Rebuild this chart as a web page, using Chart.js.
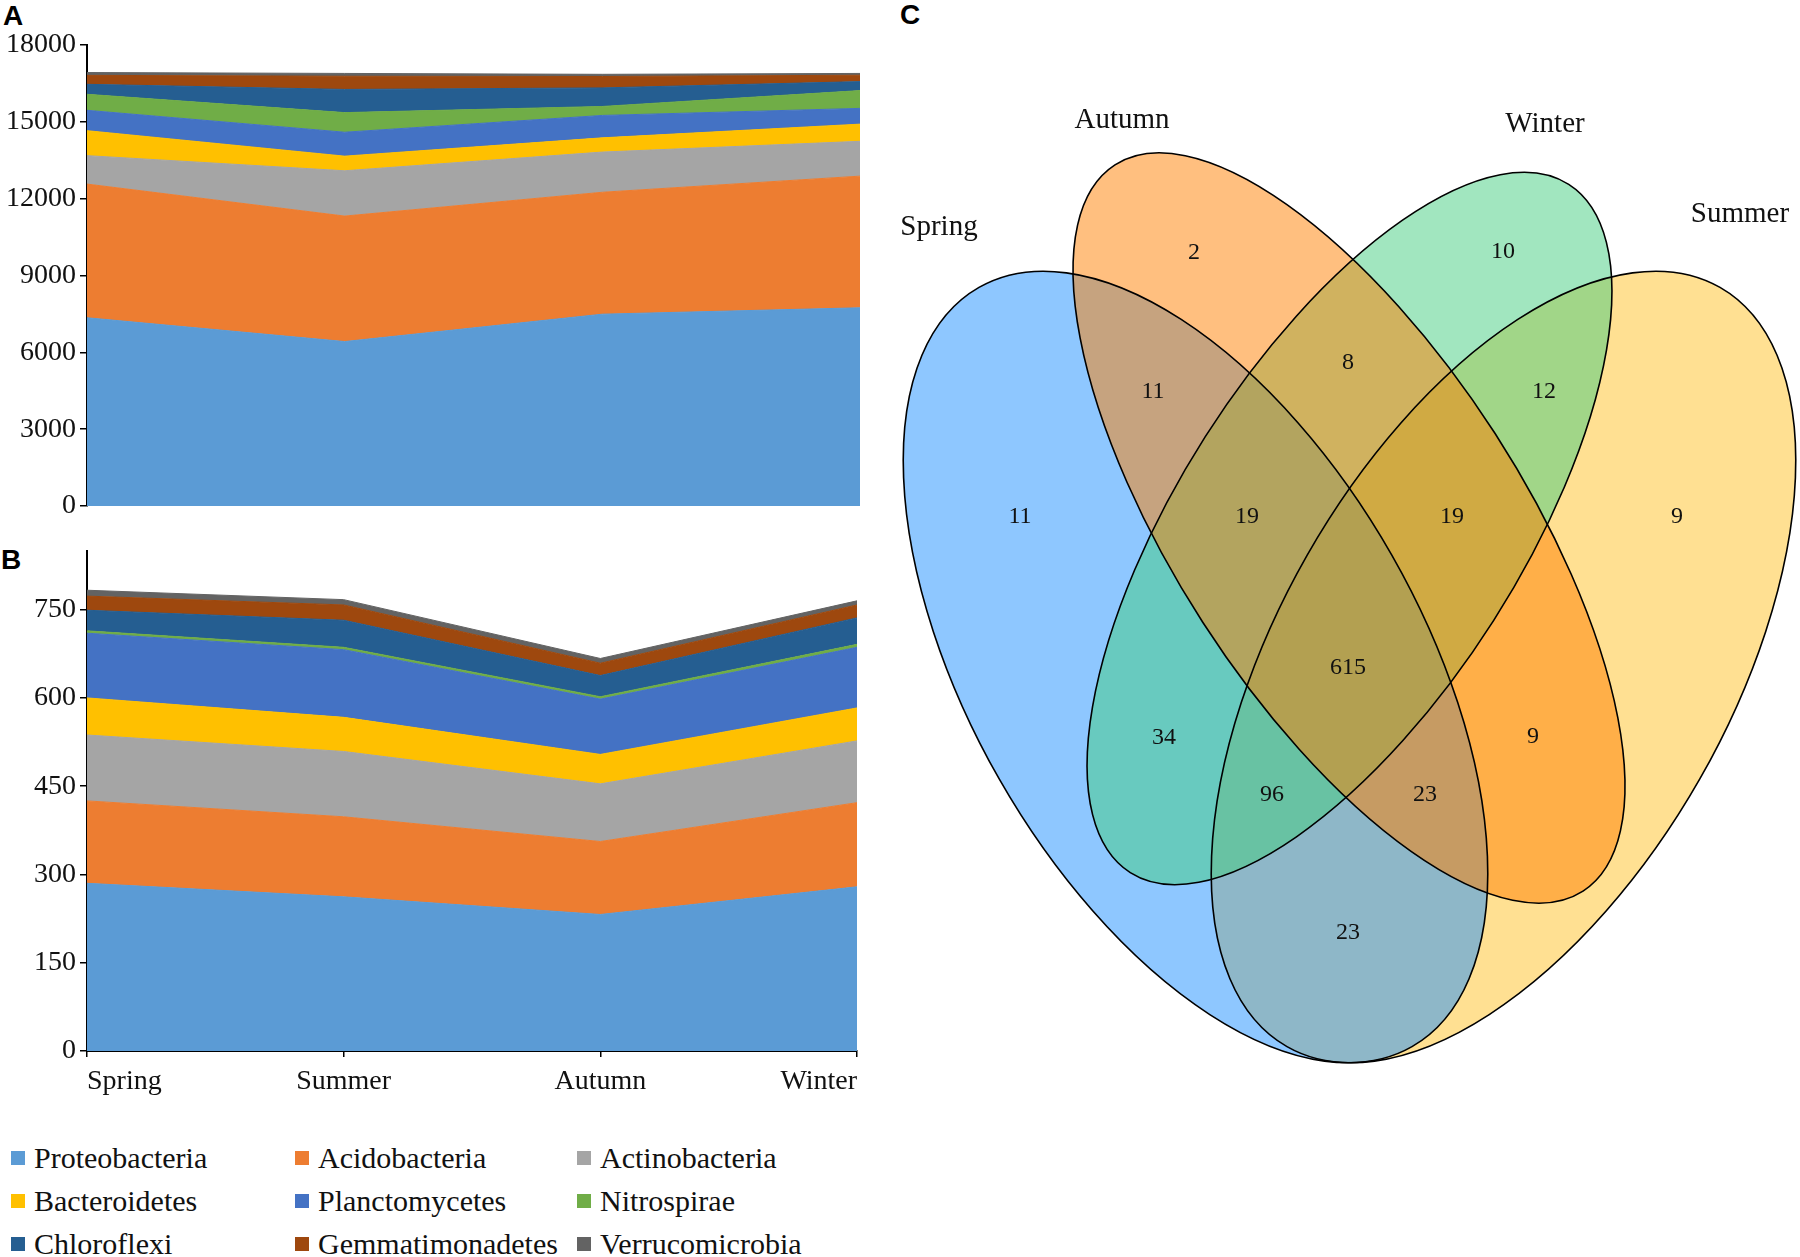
<!DOCTYPE html>
<html>
<head>
<meta charset="utf-8">
<script src="https://cdn.jsdelivr.net/npm/chart.js@4.4.1/dist/chart.umd.min.js"></script>
<style>
    body { margin: 0; background: #fff; width: 1800px; height: 1257px; position: relative; overflow: hidden; font-family: "Liberation Serif", "Times New Roman", serif; }
    .panel { position: absolute; font-family: "Liberation Sans", Arial, sans-serif; font-weight: bold; font-size: 28px; line-height: 28px; color: #000; }
    .wrap { position: absolute; }
    #legend { position: absolute; left: 11px; top: 1136px; display: grid; grid-template-columns: 284px 282px 280px; grid-auto-rows: 43px; }
    #legend .item { display: flex; align-items: center; font-size: 30px; color: #111; white-space: nowrap; }
    #legend .sq { width: 14px; height: 14px; margin-right: 9px; flex: none; }
</style>
</head>
<body>
<div class="panel" style="left:3px;top:2px">A</div>
<div class="panel" style="left:1px;top:546px">B</div>
<div class="panel" style="left:900px;top:1px">C</div>

<div class="wrap" style="left:0;top:0"><canvas id="chart-a" width="900" height="540"></canvas></div>
<div class="wrap" style="left:0;top:530px"><canvas id="chart-b" width="900" height="570"></canvas></div>
<div class="wrap" style="left:880px;top:0"><canvas id="chart-c" width="920" height="1100"></canvas></div>
<div id="legend"></div>

<script>
// Datos
const seasons = ['Spring', 'Summer', 'Autumn', 'Winter'];
const phyla = ['Proteobacteria', 'Acidobacteria', 'Actinobacteria', 'Bacteroidetes', 'Planctomycetes',
               'Nitrospirae', 'Chloroflexi', 'Gemmatimonadetes', 'Verrucomicrobia'];
const phylumColors = ['#5B9BD5', '#ED7D31', '#A5A5A5', '#FFC000', '#4472C4',
                      '#70AD47', '#255E91', '#9E480E', '#636363'];

// Panel A (secuencias)
const proteobacteriaA   = [7350, 6420, 7490, 7740];
const acidobacteriaA    = [5220, 4900, 4760, 5140];
const actinobacteriaA   = [1110, 1770, 1570, 1360];
const bacteroidetesA    = [975, 570, 555, 670];
const planctomycetesA   = [795, 935, 875, 615];
const nitrospiraeA      = [625, 765, 350, 695];
const chloroflexiA      = [390, 905, 725, 350];
const gemmatimonadetesA = [350, 515, 445, 250];
const verrucomicrobiaA  = [110, 110, 85, 70];
const yTicksA = { min: 0, max: 18000, step: 3000 };

// Panel B (OTUs)
const proteobacteriaB   = [285, 262, 232, 279];
const acidobacteriaB    = [140, 136, 124, 143];
const actinobacteriaB   = [112, 111, 98, 105];
const bacteroidetesB    = [63, 58, 50, 56];
const planctomycetesB   = [110, 115, 94, 103];
const nitrospiraeB      = [4, 4, 4, 5];
const chloroflexiB      = [35, 46, 36, 45];
const gemmatimonadetesB = [24, 26, 21, 22];
const verrucomicrobiaB  = [10, 9, 8, 7];
const yTicksB = { min: 0, max: 850, step: 150 };

// Panel C (Venn)
const vennSets = ['Spring', 'Autumn', 'Winter', 'Summer'];
const vennRegions = ['Spring', 'Autumn', 'Winter', 'Summer',
    'Spring&Autumn', 'Autumn&Winter', 'Winter&Summer', 'Spring&Winter', 'Autumn&Summer', 'Spring&Summer',
    'Spring&Autumn&Winter', 'Autumn&Winter&Summer', 'Spring&Winter&Summer', 'Spring&Autumn&Summer', 'All'];
const vennCounts = [11, 2, 10, 9, 11, 8, 12, 34, 9, 23, 19, 19, 96, 23, 615];

const seriesA = [proteobacteriaA, acidobacteriaA, actinobacteriaA, bacteroidetesA, planctomycetesA,
                 nitrospiraeA, chloroflexiA, gemmatimonadetesA, verrucomicrobiaA];
const seriesB = [proteobacteriaB, acidobacteriaB, actinobacteriaB, bacteroidetesB, planctomycetesB,
                 nitrospiraeB, chloroflexiB, gemmatimonadetesB, verrucomicrobiaB];

// Geometría del Venn (coordenadas de página)
const vennShapes = {
    Spring: { cx: 1195.5, cy: 667, a: 437, b: 226, rot: 60.3, fill: 'rgba(30,144,255,0.5)' },
    Summer: { cx: 1503.5, cy: 667, a: 437, b: 226, rot: 119.7, fill: 'rgba(255,193,37,0.5)' },
    Autumn: { cx: 1349, cy: 528, a: 432, b: 174, rot: 57.2, fill: 'rgba(255,127,0,0.5)' },
    Winter: { cx: 1349.5, cy: 528.5, a: 408, b: 171, rot: 122.5, fill: 'rgba(67,205,128,0.5)' }
};
const vennDrawOrder = ['Summer', 'Spring', 'Winter', 'Autumn'];
const setLabelPos = { Spring: [939, 227], Autumn: [1122, 120], Winter: [1545, 124], Summer: [1740, 214] };
const regionPos = {
    'Spring': [1020, 517], 'Autumn': [1194, 253], 'Winter': [1503, 252], 'Summer': [1677, 517],
    'Spring&Autumn': [1153, 392], 'Autumn&Winter': [1348, 363], 'Winter&Summer': [1544, 392],
    'Spring&Winter': [1164, 738], 'Autumn&Summer': [1533, 737], 'Spring&Summer': [1348, 933],
    'Spring&Autumn&Winter': [1247, 517], 'Autumn&Winter&Summer': [1452, 517],
    'Spring&Winter&Summer': [1272, 795], 'Spring&Autumn&Summer': [1425, 795], 'All': [1348, 668]
};

const serif = '"Liberation Serif", "Times New Roman", serif';

function areaDatasets(series) {
    return series.map((values, i) => ({
        label: phyla[i],
        data: values,
        backgroundColor: phylumColors[i],
        borderColor: phylumColors[i],
        borderWidth: 1,
        pointRadius: 0,
        tension: 0,
        fill: i === 0 ? 'origin' : '-1'
    }));
}

function stackedOptions(ticks, opts) {
    const x = {
        display: opts.showX,
        offset: false,
        grid: { drawOnChartArea: false, drawTicks: true, tickLength: 6, color: '#000', lineWidth: 1.5 },
        border: { display: true, color: '#000', width: 2 },
        ticks: { color: '#111', font: { family: serif, size: 28 }, padding: 8, align: 'inner', maxRotation: 0 }
    };
    if (opts.showX) x.afterFit = s => { s.height = 49; };
    return {
        responsive: false,
        animation: false,
        layout: { padding: opts.padding },
        plugins: { legend: { display: false }, tooltip: { enabled: false } },
        scales: {
            x: x,
            y: {
                stacked: true,
                min: ticks.min,
                max: ticks.max,
                grid: { drawOnChartArea: false, drawTicks: true, tickLength: 7, color: '#000', lineWidth: 1.5 },
                border: { display: true, color: '#000', width: 2 },
                ticks: {
                    stepSize: ticks.step, includeBounds: false, color: '#111', padding: 4,
                    font: { family: serif, size: 28 },
                    callback: v => String(v)
                },
                afterFit: s => { s.width = 87; }
            }
        }
    };
}

new Chart(document.getElementById('chart-a').getContext('2d'), {
    type: 'line',
    data: { labels: seasons, datasets: areaDatasets(seriesA) },
    options: stackedOptions(yTicksA, { padding: { top: 45, bottom: 34, right: 40, left: 0 }, showX: false })
});

new Chart(document.getElementById('chart-b').getContext('2d'), {
    type: 'line',
    data: { labels: seasons, datasets: areaDatasets(seriesB) },
    options: stackedOptions(yTicksB, { padding: { top: 15, bottom: 0, right: 43, left: 0 }, showX: true })
});

// Venn: elipses y textos dibujados con las escalas del gráfico
const vennPlugin = {
    id: 'venn',
    beforeDatasetsDraw(chart) {
        const { ctx, scales: { x, y } } = chart;
        const k = x.getPixelForValue(1) - x.getPixelForValue(0);
        ctx.save();
        vennDrawOrder.forEach(name => {
            const e = vennShapes[name];
            ctx.beginPath();
            ctx.ellipse(x.getPixelForValue(e.cx), y.getPixelForValue(e.cy), e.a * k, e.b * k, e.rot * Math.PI / 180, 0, Math.PI * 2);
            ctx.fillStyle = e.fill;
            ctx.fill();
        });
        ctx.strokeStyle = '#000';
        ctx.lineWidth = 1.6;
        vennDrawOrder.forEach(name => {
            const e = vennShapes[name];
            ctx.beginPath();
            ctx.ellipse(x.getPixelForValue(e.cx), y.getPixelForValue(e.cy), e.a * k, e.b * k, e.rot * Math.PI / 180, 0, Math.PI * 2);
            ctx.stroke();
        });
        ctx.fillStyle = '#111';
        ctx.textAlign = 'center';
        ctx.textBaseline = 'middle';
        ctx.font = '29px ' + serif;
        vennSets.forEach(name => {
            const p = setLabelPos[name];
            ctx.fillText(name, x.getPixelForValue(p[0]), y.getPixelForValue(p[1]));
        });
        ctx.restore();
    },
    afterDatasetsDraw(chart) {
        const { ctx } = chart;
        const meta = chart.getDatasetMeta(0);
        ctx.save();
        ctx.fillStyle = '#111';
        ctx.textAlign = 'center';
        ctx.textBaseline = 'middle';
        ctx.font = '24px ' + serif;
        meta.data.forEach((pt, i) => ctx.fillText(String(vennCounts[i]), pt.x, pt.y));
        ctx.restore();
    }
};

new Chart(document.getElementById('chart-c').getContext('2d'), {
    type: 'scatter',
    data: {
        datasets: [{
            label: 'Venn',
            data: vennRegions.map((r, i) => ({ x: regionPos[r][0], y: regionPos[r][1] })),
            pointRadius: 0
        }]
    },
    options: {
        responsive: false,
        animation: false,
        layout: { padding: 0 },
        plugins: { legend: { display: false }, tooltip: { enabled: false } },
        scales: {
            x: { type: 'linear', display: false, min: 880, max: 1800 },
            y: { type: 'linear', display: false, min: 0, max: 1100, reverse: true }
        }
    },
    plugins: [vennPlugin]
});

// Leyenda
const legend = document.getElementById('legend');
phyla.forEach((name, i) => {
    const item = document.createElement('div');
    item.className = 'item';
    item.innerHTML = `<span class="sq" style="background:${phylumColors[i]}"></span><span>${name}</span>`;
    legend.appendChild(item);
});
</script>
</body>
</html>
